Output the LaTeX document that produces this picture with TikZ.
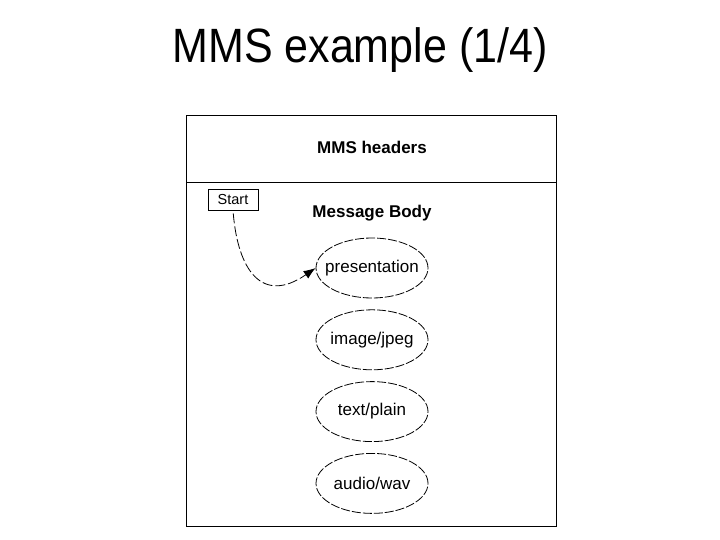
\documentclass[tikz,border=0pt]{standalone}
\usepackage{fontspec}
\setmainfont{Liberation Sans}
\usetikzlibrary{arrows.meta, positioning, shapes.geometric}

\begin{document}
\begin{tikzpicture}[x = 1pt, y = 1pt, line width = 0.8pt,
  frame/.style = {draw, minimum width = 370pt, inner sep = 0pt, outer sep = 0pt},
  part/.style = {draw, ellipse, dash pattern = on 9pt off 2pt, minimum width = 112pt, minimum height = 60pt, inner xsep = -10pt, inner ysep = 0pt, font = \fontsize{17}{20}\selectfont}]
\useasboundingbox (0,0) rectangle (720,-540);

% title
\node[anchor = base, inner sep = 0pt, font = \fontsize{43}{50}\selectfont] (title) at (360,-63) {\scalebox{1}[1.12]{MMS example (1/4)}};

% message
\node[frame, minimum height = 67pt] (hdr) at (371,-148.5) {};
\node[frame, minimum height = 344pt, below = 0pt of hdr] (body) {};
\node[anchor = base, font = \fontsize{17}{20}\selectfont\bfseries] (hdrtxt) at (372,-154) {MMS headers};
\node[anchor = base, font = \fontsize{17}{20}\selectfont\bfseries] (bodytxt) at (372,-218) {Message Body};

% parts
\node[part] (pres) at (372,-268) {presentation};
\node[part, below = 11pt of pres] (jpeg) {image/jpeg};
\node[part, below = 11pt of jpeg] (plain) {text/plain};
\node[part, below = 11pt of plain] (wav) {audio/wav};

% start
\node[draw, minimum width = 50pt, minimum height = 21pt, inner sep = 0pt, font = \fontsize{14.5}{16}\selectfont] (start) at (233,-199.5) {Start};
\draw[dash pattern = on 10pt off 3pt, -{Latex[length = 12pt, width = 9pt]}, shorten <= 3pt] (start.south) .. controls (238,-270) and (262,-305) .. (pres.west);

\end{tikzpicture}
\end{document}
